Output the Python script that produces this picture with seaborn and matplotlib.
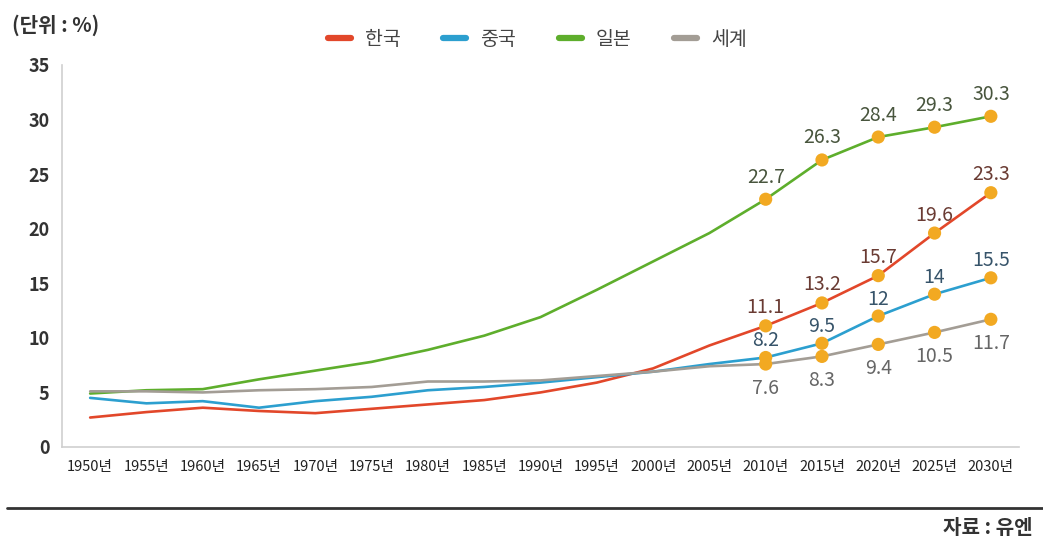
import matplotlib
matplotlib.use("Agg")
import matplotlib.pyplot as plt
from matplotlib.lines import Line2D
import numpy as np
import pandas as pd
import seaborn as sns

years = ["1950", "1955", "1960", "1965", "1970", "1975", "1980", "1985", "1990",
         "1995", "2000", "2005", "2010", "2015", "2020", "2025", "2030"]
korea = [2.7, 3.2, 3.6, 3.3, 3.1, 3.5, 3.9, 4.3, 5.0, 5.9, 7.2, 9.3, 11.1, 13.2, 15.7, 19.6, 23.3]
china = [4.5, 4.0, 4.2, 3.6, 4.2, 4.6, 5.2, 5.5, 5.9, 6.4, 6.9, 7.6, 8.2, 9.5, 12.0, 14.0, 15.5]
japan = [4.9, 5.2, 5.3, 6.2, 7.0, 7.8, 8.9, 10.2, 11.9, 14.4, 17.0, 19.6, 22.7, 26.3, 28.4, 29.3, 30.3]
world = [5.1, 5.1, 5.0, 5.2, 5.3, 5.5, 6.0, 6.0, 6.1, 6.5, 6.9, 7.4, 7.6, 8.3, 9.4, 10.5, 11.7]
labels_from = "2010"
series_names = ["한국", "중국", "일본", "세계"]

line_colors = {"한국": "#e2472a", "중국": "#2c9fcf", "일본": "#5eae2c", "세계": "#a39d95"}
label_colors = {"한국": "#6a3b33", "중국": "#37546a", "일본": "#48553d", "세계": "#666666"}
label_offset_px = {"한국": 18, "중국": 17, "일본": 22, "세계": -24}

sns.set_style("white")
plt.rcParams["font.family"] = ["Noto Sans CJK KR", "DejaVu Sans"]

rows = []
for name, vals in zip(series_names, [korea, china, japan, world]):
    for i, (y, v) in enumerate(zip(years, vals)):
        rows.append({"idx": i, "year": y, "value": v, "country": name})
df = pd.DataFrame(rows)

fig = plt.figure(figsize=(10.43, 5.45), dpi=100)
ax = fig.add_axes([62 / 1043, 1 - 447 / 545, (1019 - 62) / 1043, (447 - 65) / 545])

sns.lineplot(data=df, x="idx", y="value", hue="country", hue_order=series_names,
             palette=line_colors, linewidth=1.9, ax=ax, legend=False, sort=True)

start = years.index(labels_from)
sub = df[df["idx"] >= start]
sns.scatterplot(data=sub, x="idx", y="value", color="#f2a922", s=90, edgecolor="none",
                ax=ax, legend=False, zorder=5)

for name in series_names:
    s = sub[sub["country"] == name]
    for _, r in s.iterrows():
        v = r["value"]
        txt = f"{v:g}"
        ax.annotate(txt, (r["idx"], v), xytext=(0, label_offset_px[name] * 0.72),
                    textcoords="offset points", ha="center", va="center",
                    fontsize=14, color=label_colors[name], zorder=6)

ax.set_xlim(-0.5, len(years) - 0.5)
ax.set_ylim(0, 35)
ax.set_yticks(np.arange(0, 36, 5))
ax.set_yticklabels([str(v) for v in range(0, 36, 5)],
                   fontweight="bold", fontsize=13, color="#333333")
ax.set_xticks(range(len(years)))
ax.set_xticklabels([y + "년" for y in years], fontsize=10.5, color="#222222")
ax.set_xticks(np.arange(0.5, len(years), 1), minor=True)
ax.tick_params(axis="x", which="major", length=0, pad=9)
ax.tick_params(axis="x", which="minor", direction="in", length=12, color="#cfcfcf", width=1)
ax.tick_params(axis="y", length=0, pad=9)
ax.set_xlabel("")
ax.set_ylabel("")
for sp in ["top", "right"]:
    ax.spines[sp].set_visible(False)
for sp in ["left", "bottom"]:
    ax.spines[sp].set_color("#cfcfcf")
    ax.spines[sp].set_linewidth(1.2)

handles = [Line2D([0], [0], color=line_colors[n], linewidth=4.5) for n in series_names]
fig.legend(handles, series_names, loc="center", bbox_to_anchor=(0.515, 0.927), ncol=4,
           frameon=False, fontsize=14, handlelength=1.2, handletextpad=0.7,
           columnspacing=2.2, labelcolor="#444444")

fig.text(12 / 1043, 1 - 25 / 545, "(단위 : %)", ha="left", va="center", fontsize=14.5,
         fontweight="bold", color="#333333")
fig.text(1033 / 1043, 1 - 528 / 545, "자료 : 유엔", ha="right", va="center", fontsize=14.5,
         fontweight="bold", color="#333333")
fig.add_artist(Line2D([7 / 1043, 1.0], [1 - 508 / 545, 1 - 508 / 545],
                      color="#333333", linewidth=2.0, transform=fig.transFigure))

fig.savefig("out.png", dpi=100, facecolor="white")
